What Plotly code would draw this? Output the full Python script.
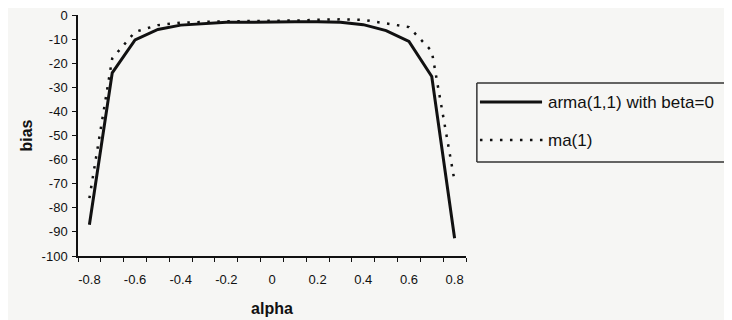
import plotly.graph_objects as go

# ---- data ----
alpha = [-0.8, -0.7, -0.6, -0.5, -0.4, -0.3, -0.2, -0.1, 0.0, 0.1, 0.2, 0.3, 0.4, 0.5, 0.6, 0.7, 0.8]
arma_bias = [-87, -24, -10.3, -6, -4.2, -3.5, -3, -3, -2.8, -2.8, -2.8, -3, -4, -6.5, -11, -25.5, -92.6]
ma_bias = [-76, -18, -7, -4.2, -3.2, -2.8, -2.6, -2.5, -2.5, -2.3, -2, -1.8, -2, -3.5, -5, -15, -69]
series_names = ["arma(1,1) with beta=0", "ma(1)"]
x_tickvals = [-0.8, -0.6, -0.4, -0.2, 0, 0.2, 0.4, 0.6, 0.8]
x_ticktext = ["-0.8", "-0.6", "-0.4", "-0.2", "0", "0.2", "0.4", "0.6", "0.8"]
y_tickvals = [0, -10, -20, -30, -40, -50, -60, -70, -80, -90, -100]
y_ticktext = ["0", "-10", "-20", "-30", "-40", "-50", "-60", "-70", "-80", "-90", "-100"]

FONT = "Arial, Liberation Sans, sans-serif"
BG = "#f6f6f4"
INK = "#111111"
DOT = "2.5px,7.5px"

fig = go.Figure()
fig.add_trace(go.Scatter(x=alpha, y=arma_bias, mode="lines", name=series_names[0],
                         line=dict(color=INK, width=3), showlegend=False))
fig.add_trace(go.Scatter(x=alpha, y=ma_bias, mode="lines", name=series_names[1],
                         line=dict(color=INK, width=2.5, dash=DOT), showlegend=False))

# manual legend box (left, top, bottom borders)
lx0, lx1, ly0, ly1 = 1.028, 1.668, 0.390, 0.718
for (x0, y0, x1, y1) in [(lx0, ly1, lx1, ly1), (lx0, ly0, lx0, ly1), (lx0, ly0, lx1, ly0)]:
    fig.add_shape(type="line", xref="paper", yref="paper", x0=x0, y0=y0, x1=x1, y1=y1,
                  line=dict(color="#333333", width=1.5))
fig.add_shape(type="line", xref="paper", yref="paper", x0=1.036, x1=1.196, y0=0.639, y1=0.639,
              line=dict(color=INK, width=3))
fig.add_shape(type="line", xref="paper", yref="paper", x0=1.036, x1=1.200, y0=0.481, y1=0.481,
              line=dict(color=INK, width=2.5, dash=DOT))
for name, yp in zip(series_names, [0.639, 0.481]):
    fig.add_annotation(text=name, xref="paper", yref="paper", x=1.207, y=yp,
                       xanchor="left", yanchor="middle", showarrow=False,
                       font=dict(family=FONT, size=17, color=INK))

# page body adds an 8px offset, so the figure is drawn 8px smaller with shifted margins
fig.update_layout(
    width=724, height=312,
    margin=dict(l=70, r=266, t=7, b=64),
    paper_bgcolor=BG, plot_bgcolor=BG,
    font=dict(family=FONT, size=13, color=INK),
    showlegend=False,
)
fig.update_xaxes(
    range=[-0.85, 0.85], tickvals=x_tickvals, ticktext=x_ticktext, automargin=False,
    ticks="", showgrid=False, zeroline=False,
    showline=True, linecolor=INK, linewidth=1.5,
    tickfont=dict(size=13), ticklabelstandoff=11, ticklabeloverflow="allow",
    minor=dict(tick0=-0.85, dtick=0.1, ticks="outside", ticklen=4, tickcolor=INK, showgrid=False),
    title=dict(text="<b>alpha</b>", font=dict(size=16), standoff=16),
)
fig.update_yaxes(
    range=[-100, 0], tickvals=y_tickvals, ticktext=y_ticktext, automargin=False,
    ticks="outside", ticklen=4, tickcolor=INK, showgrid=False, zeroline=False,
    showline=True, linecolor=INK, linewidth=1.5,
    tickfont=dict(size=13), ticklabelstandoff=2, ticklabeloverflow="allow",
    title=dict(text="<b>bias</b>", font=dict(size=16), standoff=5),
)

fig.write_html("out.html")
